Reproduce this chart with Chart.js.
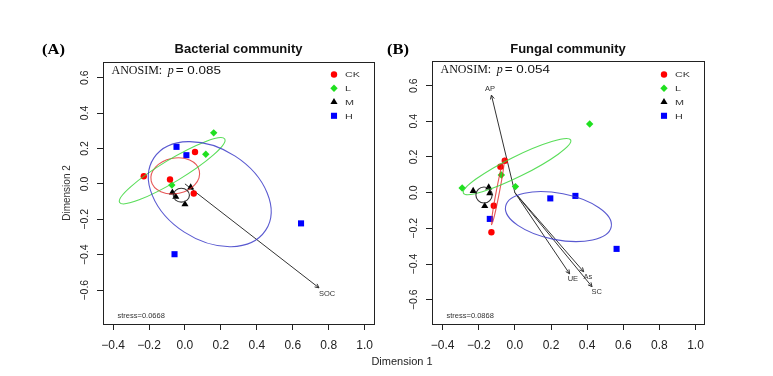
<!DOCTYPE html>
<html>
<head>
<meta charset="utf-8">
<script src="https://cdn.jsdelivr.net/npm/chart.js@4.4.1/dist/chart.umd.min.js"></script>
<style>
  html, body { margin: 0; padding: 0; background: #fff; }
  #wrap { position: relative; width: 773px; height: 376px; overflow: hidden; }
  #bac { position: absolute; left: 0; top: 0; width: 386px; height: 376px; }
  #fun { position: absolute; left: 386px; top: 0; width: 387px; height: 376px; }
  #xlab { position: absolute; left: 342px; top: 355px; width: 120px; text-align: center;
          font: 11px "Liberation Sans", Arial, sans-serif; line-height: 13px; color: #222; }
</style>
</head>
<body>
<div id="wrap">
  <canvas id="bac" width="386" height="376"></canvas>
  <canvas id="fun" width="387" height="376"></canvas>
  <div id="xlab">Dimension 1</div>
</div>
<script>
// tick values (same for both panels)
const xTicks = [-0.4, -0.2, 0.0, 0.2, 0.4, 0.6, 0.8, 1.0];
const yTicks = [-0.6, -0.4, -0.2, 0.0, 0.2, 0.4, 0.6];

const groups = ["CK", "L", "M", "H"];
const groupColors = ["#ff0000", "#1fe01f", "#000000", "#0000ff"];
const groupShapes = ["circle", "rectRot", "triangle", "rect"];
const groupRadius = [3.2, 3.7, 4.1, 4.3];
const ellipseColors = ["rgba(225,45,45,0.8)", "rgba(60,215,60,0.85)", "#333333", "rgba(60,60,200,0.85)"];

// bacterial community NMDS scores [x, y]
const bacCK = [[-0.229, 0.043], [-0.083, 0.025], [0.056, 0.18], [0.049, -0.054]];
const bacL = [[0.16, 0.288], [0.116, 0.167], [-0.073, -0.007]];
const bacM = [[-0.07, -0.049], [-0.051, -0.073], [0.0, -0.115], [0.032, -0.02]];
const bacH = [[-0.047, 0.209], [0.008, 0.162], [0.646, -0.223], [-0.058, -0.397]];

// fungal community NMDS scores [x, y]
const funCK = [[-0.056, 0.179], [-0.08, 0.146], [-0.117, -0.073], [-0.13, -0.222]];
const funL = [[0.414, 0.385], [-0.292, 0.026], [-0.075, 0.099], [0.003, 0.034]];
const funM = [[-0.231, 0.01], [-0.145, 0.03], [-0.139, -0.003], [-0.167, -0.075]];
const funH = [[-0.139, -0.147], [0.196, -0.032], [0.335, -0.018], [0.563, -0.315]];

// group ellipses [centerX, centerY, semiMajor, semiMinor, angleDeg]
const bacEllipses = [[-0.054, 0.045, 0.137, 0.1, 12], [-0.071, 0.074, 0.343, 0.062, 31.5],
                     [-0.02, -0.064, 0.045, 0.039, 0], [0.138, -0.058, 0.372, 0.257, -33.4]];
const funEllipses = [[-0.094, 0.007, 0.19, 0.009, 79.3], [0.012, 0.146, 0.332, 0.056, 26.6],
                     [-0.171, -0.013, 0.045, 0.045, 0], [0.241, -0.134, 0.298, 0.13, -11.2]];

// envfit arrows
const bacArrowNames = ["SOC"];
const bacArrowX = [0.746];
const bacArrowY = [-0.587];
const funArrowNames = ["AP", "UE", "As", "SC"];
const funArrowX = [-0.13, 0.303, 0.381, 0.427];
const funArrowY = [0.547, -0.455, -0.443, -0.527];

// axis ranges
const bacXRange = [-0.456, 1.052];
const bacYRange = [-0.791, 0.688];
const funXRange = [-0.459, 1.047];
const funYRange = [-0.736, 0.738];

const SANS = '"Liberation Sans", Arial, sans-serif';
const SERIF = '"Liberation Serif", "Times New Roman", serif';

function fmt(v) {
  return (v < -1e-9 ? "\u2212" : "") + Math.abs(v).toFixed(1);
}

function stretchText(ctx, txt, x, y, sx) {
  ctx.save();
  ctx.translate(x, y);
  ctx.scale(sx, 1);
  ctx.fillText(txt, 0, 0);
  ctx.restore();
  return ctx.measureText(txt).width * sx;
}

function drawMarker(ctx, shape, r, x, y, color) {
  ctx.fillStyle = color;
  ctx.beginPath();
  if (shape === "circle") {
    ctx.arc(x, y, r, 0, Math.PI * 2);
  } else if (shape === "rectRot") {
    ctx.moveTo(x, y - r); ctx.lineTo(x + r, y); ctx.lineTo(x, y + r); ctx.lineTo(x - r, y);
  } else if (shape === "triangle") {
    ctx.moveTo(x, y - r); ctx.lineTo(x + r * 0.87, y + r * 0.5); ctx.lineTo(x - r * 0.87, y + r * 0.5);
  } else {
    const s = r * Math.SQRT1_2;
    ctx.rect(x - s, y - s, 2 * s, 2 * s);
  }
  ctx.closePath();
  ctx.fill();
}

// ellipses, arrow heads, labels, box, legend and panel texts
const panelDecor = {
  id: "panelDecor",
  afterDatasetsDraw(chart, args, o) {
    const ctx = chart.ctx, ca = chart.chartArea;
    const xs = chart.scales.x, ys = chart.scales.y;
    ctx.save();
    ctx.beginPath();
    ctx.rect(ca.left, ca.top, ca.right - ca.left, ca.bottom - ca.top);
    ctx.clip();
    // ellipses
    o.ellipses.forEach((e, i) => {
      const [cx, cy, a, b, deg] = e;
      const t = deg * Math.PI / 180;
      const px = xs.getPixelForValue(cx), py = ys.getPixelForValue(cy);
      const ax = xs.getPixelForValue(cx + a * Math.cos(t)) - px;
      const ay = ys.getPixelForValue(cy + a * Math.sin(t)) - py;
      const bx = xs.getPixelForValue(cx - b * Math.sin(t)) - px;
      const by = ys.getPixelForValue(cy + b * Math.cos(t)) - py;
      ctx.save();
      ctx.beginPath();
      ctx.transform(ax, ay, bx, by, px, py);
      ctx.arc(0, 0, 1, 0, Math.PI * 2);
      ctx.restore();
      ctx.strokeStyle = ellipseColors[i];
      ctx.lineWidth = 1.1;
      ctx.stroke();
    });
    // arrow heads and labels
    ctx.strokeStyle = "#333";
    ctx.fillStyle = "#333";
    ctx.lineWidth = 1;
    ctx.font = "7.5px " + SANS;
    ctx.textAlign = "center";
    ctx.textBaseline = "middle";
    chart.data.datasets.forEach((ds, di) => {
      if (!ds.arrowName) return;
      const pts = chart.getDatasetMeta(di).data;
      const p0 = pts[0], p1 = pts[1];
      const ang = Math.atan2(p1.y - p0.y, p1.x - p0.x);
      const hl = 4.5;
      ctx.beginPath();
      ctx.moveTo(p1.x - hl * Math.cos(ang - 0.45), p1.y - hl * Math.sin(ang - 0.45));
      ctx.lineTo(p1.x, p1.y);
      ctx.lineTo(p1.x - hl * Math.cos(ang + 0.45), p1.y - hl * Math.sin(ang + 0.45));
      ctx.stroke();
      const v = ds.data[1];
      ctx.fillText(ds.arrowName, xs.getPixelForValue(v.x * 1.06), ys.getPixelForValue(v.y * 1.06));
    });
    ctx.restore();
  },
  afterDraw(chart, args, o) {
    const ctx = chart.ctx, ca = chart.chartArea;
    ctx.save();
    // plot box
    ctx.strokeStyle = "#222";
    ctx.lineWidth = 1;
    ctx.strokeRect(Math.round(ca.left) + 0.5, Math.round(ca.top) + 0.5,
                   Math.round(ca.right - ca.left), Math.round(ca.bottom - ca.top));
    const mid = (ca.left + ca.right) / 2;
    // panel letter
    ctx.fillStyle = "#000";
    ctx.textBaseline = "alphabetic";
    ctx.textAlign = "left";
    ctx.font = "bold 15px " + SERIF;
    stretchText(ctx, o.letter, o.letterX, 54, 1.1);
    // title
    ctx.textAlign = "center";
    ctx.font = "bold 13px " + SANS;
    ctx.fillStyle = "#111";
    ctx.fillText(o.title, mid, 52.7);
    // ANOSIM line
    ctx.textAlign = "left";
    let x = ca.left + 8.5;
    const y = ca.top + 11.8;
    ctx.font = "12px " + SERIF;
    ctx.fillText("ANOSIM:", x, y);
    x += ctx.measureText("ANOSIM:").width + 5.5;
    ctx.font = "italic 12px " + SERIF;
    ctx.fillText("p", x, y);
    x += ctx.measureText("p").width + 2;
    ctx.font = "10.5px " + SANS;
    stretchText(ctx, "= " + o.pValue, x, y, 1.28);
    // stress
    ctx.font = "7.5px " + SANS;
    ctx.fillStyle = "#333";
    ctx.fillText(o.stress, ca.left + 14.5, 317.5);
    // legend
    const lx = ca.right - 40;
    const rows = [74.5, 88.3, 102, 115.8];
    ctx.font = "8px " + SANS;
    ctx.textBaseline = "middle";
    groups.forEach((g, i) => {
      drawMarker(ctx, groupShapes[i], groupRadius[i], lx, rows[i], groupColors[i]);
      ctx.fillStyle = "#333";
      stretchText(ctx, g, lx + 11, rows[i] + 0.5, 1.35);
    });
    ctx.restore();
  }
};

function groupData(pts) {
  return pts.map(p => ({ x: p[0], y: p[1] }));
}

function makePanel(id, cfg) {
  const datasets = [];
  cfg.groupsData.forEach((pts, i) => {
    datasets.push({
      label: groups[i],
      data: groupData(pts),
      pointStyle: groupShapes[i],
      pointRadius: groupRadius[i],
      pointBackgroundColor: groupColors[i],
      pointBorderColor: groupColors[i],
      pointBorderWidth: 0,
      showLine: false
    });
  });
  cfg.arrowNames.forEach((n, i) => {
    datasets.push({
      label: n,
      arrowName: n,
      data: [{ x: 0, y: 0 }, { x: cfg.arrowX[i], y: cfg.arrowY[i] }],
      showLine: true,
      borderColor: "#333",
      borderWidth: 1,
      pointRadius: 0
    });
  });

  const axisBase = {
    type: "linear",
    grid: { display: true, drawOnChartArea: false, drawTicks: true, tickLength: 6, color: "#222", lineWidth: 1 },
    border: { display: true, color: "#222", width: 1 }
  };

  return new Chart(document.getElementById(id), {
    type: "scatter",
    data: { datasets },
    options: {
      responsive: false,
      animation: false,
      events: [],
      layout: { padding: { left: 0, top: cfg.area.top, right: cfg.padRight, bottom: 0 } },
      plugins: {
        legend: { display: false },
        tooltip: { enabled: false },
        panelDecor: {
          ellipses: cfg.ellipses,
          letter: cfg.letter,
          letterX: cfg.letterX,
          title: cfg.title,
          pValue: cfg.pValue,
          stress: cfg.stress
        }
      },
      scales: {
        x: Object.assign({}, axisBase, {
          min: cfg.xRange[0], max: cfg.xRange[1],
          afterBuildTicks: s => { s.ticks = xTicks.map(v => ({ value: v })); },
          afterFit: s => { s.height = 376 - cfg.area.bottom; },
          ticks: { autoSkip: false, maxRotation: 0, padding: 8, color: "#222",
                   font: { family: SANS, size: 12 }, callback: v => fmt(v) }
        }),
        y: Object.assign({}, axisBase, {
          min: cfg.yRange[0], max: cfg.yRange[1],
          afterBuildTicks: s => { s.ticks = yTicks.map(v => ({ value: v })); },
          afterFit: s => { s.width = cfg.area.left; },
          ticks: { autoSkip: false, minRotation: 90, maxRotation: 90, crossAlign: "center", padding: 2,
                   color: "#222", font: { family: SANS, size: 10.5 }, callback: v => fmt(v) },
          title: { display: cfg.yTitle, text: "Dimension 2", color: "#333",
                   font: { family: SANS, size: 10 }, padding: { top: 61, bottom: 0 } }
        })
      }
    },
    plugins: [panelDecor]
  });
}

makePanel("bac", {
  groupsData: [bacCK, bacL, bacM, bacH],
  ellipses: bacEllipses,
  arrowNames: bacArrowNames, arrowX: bacArrowX, arrowY: bacArrowY,
  xRange: bacXRange, yRange: bacYRange,
  area: { left: 103, top: 62, bottom: 324 },
  padRight: 386 - 374,
  letter: "(A)", letterX: 42,
  title: "Bacterial community",
  pValue: "0.085",
  stress: "stress=0.0668",
  yTitle: true
});

makePanel("fun", {
  groupsData: [funCK, funL, funM, funH],
  ellipses: funEllipses,
  arrowNames: funArrowNames, arrowX: funArrowX, arrowY: funArrowY,
  xRange: funXRange, yRange: funYRange,
  area: { left: 46, top: 61, bottom: 324 },
  padRight: 387 - 318,
  letter: "(B)", letterX: 1,
  title: "Fungal community",
  pValue: "0.054",
  stress: "stress=0.0868",
  yTitle: false
});
</script>
</body>
</html>
